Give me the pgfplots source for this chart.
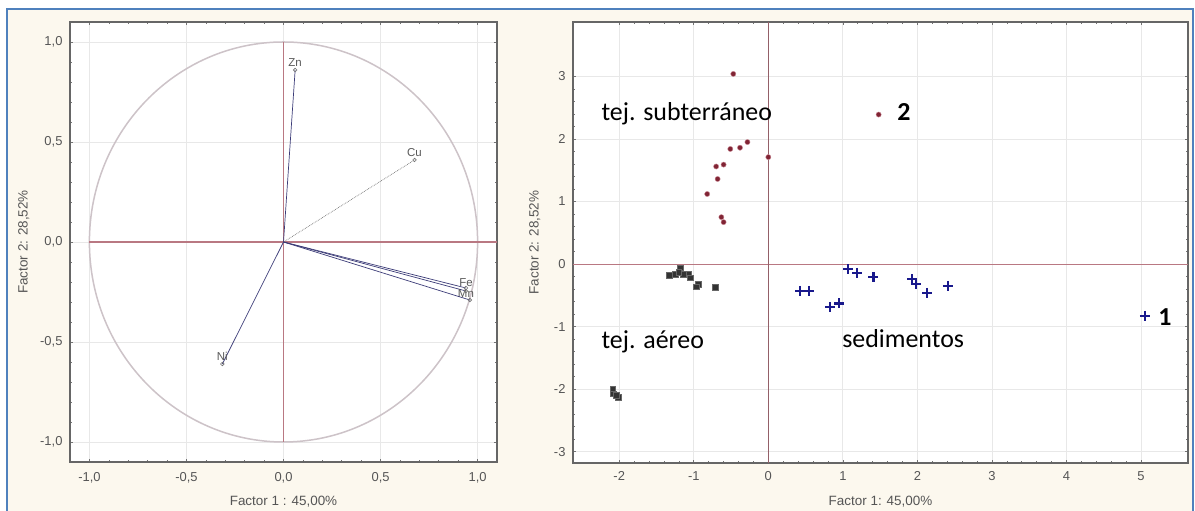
\documentclass[border=0pt]{standalone}
\usepackage{pgfplots}
\pgfplotsset{compat=1.18}
\usepackage{fontspec}
\setmainfont{Liberation Sans}
\newfontfamily\calib{Carlito}

\definecolor{cream}{RGB}{252,248,238}
\definecolor{frameblue}{RGB}{79,129,189}
\definecolor{axred}{RGB}{185,120,130}
\definecolor{vecblue}{RGB}{60,60,120}
\definecolor{circgrey}{RGB}{205,195,200}
\definecolor{tickgrey}{RGB}{85,85,85}
\definecolor{ptred}{RGB}{160,45,65}
\definecolor{ptblue}{RGB}{25,25,140}

\tikzset{vlab/.style={font=\fontsize{11.5}{12}\selectfont, text=black!65, inner sep=1bp}}

\begin{document}
\begin{tikzpicture}[x=1bp,y=1bp]
\useasboundingbox (0,0) rectangle (1195,511);
\fill[white] (0,0) rectangle (1195,511);
\fill[cream] (7,-5) rectangle (1193,502);
\draw[frameblue, line width=1.5bp] (7,-5) rectangle (1193,502);

\pgfplotsset{
  base/.style={
    scale only axis,
    clip=false,
    axis background/.style={fill=white},
    axis line style={draw=black!60, line width=1.2bp},
    grid=major,
    major grid style={draw=black!9, line width=0.8bp},
    tick align=inside,
    major tick length=3bp, minor tick length=2bp,
    every tick/.style={black!55, line width=0.6bp},
    minor tick num=4,
    ticklabel style={font=\fontsize{13}{15}\selectfont, text=tickgrey},
    label style={font=\fontsize{13.5}{16}\selectfont, text=tickgrey},
  },
  vec/.style={vecblue, line width=0.7bp, mark=o, mark indices={2},
   mark size=1.8bp, mark options={solid, black!55, line width=0.6bp}},
}

% ---------------- left: loadings circle
\begin{axis}[base,
  at={(70bp,49bp)}, anchor=south west,
  width=427bp, height=440bp,
  xmin=-1.1, xmax=1.1, ymin=-1.1, ymax=1.1,
  xtick={-1,-0.5,0,0.5,1}, xticklabels={{-1,0},{-0,5},{0,0},{0,5},{1,0}},
  ytick={-1,-0.5,0,0.5,1}, yticklabels={{-1,0},{-0,5},{0,0},{0,5},{1,0}},
  xticklabel style={yshift=-7bp},
  yticklabel style={xshift=-4bp},
  xlabel={Factor 1 : 45,00\%},
  ylabel={Factor 2: 28,52\%},
  xlabel style={at={(axis description cs:0.5,-0.091)}, anchor=center},
  ylabel style={at={(axis description cs:-0.108,0.5)}, anchor=center},
]
\draw[circgrey, line width=1.5bp] (axis cs:0,0) ellipse [x radius=1, y radius=1];
\draw[axred, line width=1.2bp] (axis cs:-1,0) -- (axis cs:1.1,0);
\draw[axred, line width=1.2bp] (axis cs:0,-1) -- (axis cs:0,1);
\addplot[vec] coordinates {(0,0) (0.06,0.86)} node[pos=1, above=2bp, vlab] {Zn};
\addplot[vec, densely dotted, black!55] coordinates {(0,0) (0.675,0.41)} node[pos=1, above=2bp, vlab] {Cu};
\addplot[vec] coordinates {(0,0) (0.94,-0.23)} node[pos=1, above=0bp, vlab] {Fe};
\addplot[vec] coordinates {(0,0) (0.94,-0.245)} node[pos=1, below=-3bp, vlab] {Mn};
\addplot[vec] coordinates {(0,0) (0.96,-0.29)};
\addplot[vec] coordinates {(0,0) (-0.315,-0.61)} node[pos=1, above=2bp, vlab] {Ni};
\end{axis}

% ---------------- right: scores
\begin{axis}[base,
  at={(573bp,48bp)}, anchor=south west,
  width=615bp, height=441bp,
  xmin=-2.62, xmax=5.63, ymin=-3.18, ymax=3.87,
  xtick={-2,-1,0,1,2,3,4,5}, xticklabels={-2,-1,0,1,2,3,4,5},
  ytick={-3,-2,-1,0,1,2,3}, yticklabels={-3,-2,-1,0,1,2,3},
  xticklabel style={yshift=-5bp},
  yticklabel style={xshift=-4bp},
  xlabel={Factor 1: 45,00\%},
  ylabel={Factor 2: 28,52\%},
  xlabel style={at={(axis description cs:0.5,-0.088)}, anchor=center},
  ylabel style={at={(axis description cs:-0.062,0.5)}, anchor=center},
]
\draw[axred, line width=1.0bp] (axis cs:-2.62,0) -- (axis cs:5.63,0);
\draw[axred!80!black, line width=1.0bp] (axis cs:0,-3.18) -- (axis cs:0,3.87);

% tej. aereo
\addplot[only marks, mark=square*, mark size=2.8bp, black, mark options={fill=black!80, draw=black!60}] coordinates {
(-1.33,-0.18) (-1.25,-0.16) (-1.18,-0.06) (-1.14,-0.16) (-1.07,-0.16)
(-1.05,-0.22) (-1.20,-0.13) (-0.94,-0.32) (-0.97,-0.36) (-0.71,-0.37)
(-2.09,-2.00) (-2.08,-2.07) (-2.01,-2.13) (-2.04,-2.10)
};
% tej. subterraneo
\addplot[only marks, mark=*, mark size=2.6bp, mark options={fill=ptred!80!black, draw=ptred!55}] coordinates {
(-0.47,3.04) (-0.51,1.84) (-0.38,1.86) (-0.28,1.95) (0.00,1.71)
(-0.70,1.56) (-0.60,1.59) (-0.68,1.36) (-0.82,1.12) (-0.63,0.75)
(-0.60,0.67) (1.48,2.39)
};
% sedimentos
\addplot[only marks, mark=+, mark size=5bp, mark options={ptblue, line width=2.2bp}] coordinates {
(0.43,-0.43) (0.55,-0.43) (0.83,-0.69) (0.95,-0.63) (1.07,-0.08)
(1.19,-0.14) (1.41,-0.21) (1.93,-0.24) (1.98,-0.32) (2.13,-0.46)
(2.41,-0.35) (5.05,-0.83)
};

\node[anchor=base west, inner sep=0, font=\calib\fontsize{26}{30}\selectfont] at (axis cs:-2.24,2.29) {tej. subterráneo};
\node[anchor=base west, inner sep=0, font=\calib\bfseries\fontsize{26}{30}\selectfont] at (axis cs:1.73,2.29) {2};
\node[anchor=base west, inner sep=0, font=\calib\fontsize{26}{30}\selectfont] at (axis cs:-2.24,-1.35) {tej. aéreo};
\node[anchor=base west, inner sep=0, font=\calib\fontsize{26}{30}\selectfont] at (axis cs:0.99,-1.33) {sedimentos};
\node[anchor=base west, inner sep=0, font=\calib\bfseries\fontsize{26}{30}\selectfont] at (axis cs:5.23,-0.99) {1};
\end{axis}
\end{tikzpicture}
\end{document}
